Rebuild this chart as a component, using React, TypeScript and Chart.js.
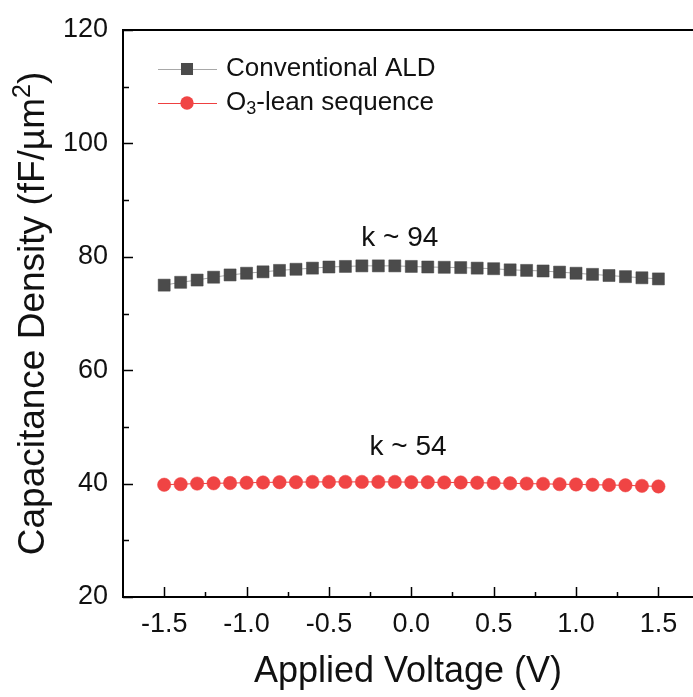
import React, { useEffect, useRef } from "react";
import { Chart, registerables } from "chart.js";

Chart.register(...registerables);

// ---------- data ----------
const voltage = [
  -1.5, -1.4, -1.3, -1.2, -1.1, -1.0, -0.9, -0.8, -0.7, -0.6, -0.5, -0.4, -0.3, -0.2, -0.1,
  0.0, 0.1, 0.2, 0.3, 0.4, 0.5, 0.6, 0.7, 0.8, 0.9, 1.0, 1.1, 1.2, 1.3, 1.4, 1.5,
];
const conventionalALD = [
  75.0, 75.5, 75.9, 76.4, 76.8, 77.1, 77.35, 77.6, 77.8, 78.0, 78.2, 78.3, 78.4, 78.4, 78.4,
  78.3, 78.2, 78.15, 78.1, 78.0, 77.9, 77.7, 77.6, 77.5, 77.3, 77.1, 76.9, 76.7, 76.5, 76.3, 76.1,
];
const o3LeanSequence = [
  39.8, 39.9, 40.0, 40.05, 40.1, 40.15, 40.2, 40.25, 40.25, 40.3, 40.3, 40.3, 40.3, 40.3, 40.3,
  40.25, 40.25, 40.2, 40.2, 40.15, 40.1, 40.05, 40.0, 39.95, 39.9, 39.85, 39.8, 39.75, 39.7, 39.6, 39.5,
];
const seriesNames = ["Conventional ALD", "O₃-lean sequence"];
const xTickValues = [-1.5, -1.0, -0.5, 0.0, 0.5, 1.0, 1.5];
const xTickLabels = ["-1.5", "-1.0", "-0.5", "0.0", "0.5", "1.0", "1.5"];
const xMinorTicks = [-1.25, -0.75, -0.25, 0.25, 0.75, 1.25];
const yTickValues = [20, 40, 60, 80, 100, 120];
const yTickLabels = ["20", "40", "60", "80", "100", "120"];
const yMinorTicks = [30, 50, 70, 90, 110];
const xAxisTitle = "Applied Voltage (V)";
const yAxisTitle = "Capacitance Density (fF/µm²)";
const kLabels = ["k ~ 94", "k ~ 54"];
const kLabelAnchorX = [-0.07, -0.02];
const kLabelAnchorY = [83.3, 46.4];

const FONT = '"Liberation Sans", Arial, Helvetica, sans-serif';

type Run = { t: string; kind: "n" | "sub" | "sup" };

function splitRich(text: string): Run[] {
  const subs = "₀₁₂₃₄₅₆₇₈₉";
  const sups = "⁰¹²³⁴⁵⁶⁷⁸⁹";
  const runs: Run[] = [];
  for (const ch of text) {
    let kind: Run["kind"] = "n";
    let t = ch;
    if (subs.indexOf(ch) >= 0) {
      kind = "sub";
      t = String(subs.indexOf(ch));
    } else if (ch === "²") {
      kind = "sup";
      t = "2";
    } else if (ch === "³") {
      kind = "sup";
      t = "3";
    } else if (sups.indexOf(ch) >= 0) {
      kind = "sup";
      t = String(sups.indexOf(ch));
    }
    const last = runs[runs.length - 1];
    if (last && last.kind === kind) last.t += t;
    else runs.push({ t, kind });
  }
  return runs;
}

function drawRichText(
  ctx: CanvasRenderingContext2D,
  text: string,
  x: number,
  y: number,
  size: number,
  align: "left" | "center" = "left"
) {
  const runs = splitRich(text);
  const small = Math.round(size * 0.68);
  const fontFor = (r: Run) => `${r.kind === "n" ? size : small}px ${FONT}`;
  let total = 0;
  runs.forEach((r) => {
    ctx.font = fontFor(r);
    total += ctx.measureText(r.t).width;
  });
  let cx = align === "center" ? x - total / 2 : x;
  ctx.textAlign = "left";
  runs.forEach((r) => {
    ctx.font = fontFor(r);
    const dy = r.kind === "sub" ? size * 0.24 : r.kind === "sup" ? -size * 0.3 : 0;
    ctx.fillText(r.t, cx, y + dy);
    cx += ctx.measureText(r.t).width;
  });
}

const decorPlugin = {
  id: "decor",
  afterDatasetsDraw(chart: any) {
    const { ctx, chartArea: a, scales } = chart;
    const x = scales.x;
    const y = scales.y;
    ctx.save();
    // frame: top, left, bottom (right side is cropped away)
    ctx.strokeStyle = "#000";
    ctx.lineWidth = 2;
    ctx.beginPath();
    ctx.moveTo(a.right + 2, a.top);
    ctx.lineTo(a.left, a.top);
    ctx.lineTo(a.left, a.bottom);
    ctx.lineTo(a.right + 2, a.bottom);
    ctx.stroke();

    // inward ticks
    ctx.lineWidth = 1.5;
    ctx.beginPath();
    xTickValues.forEach((v) => {
      const px = Math.round(x.getPixelForValue(v)) + 0.5;
      ctx.moveTo(px, a.bottom);
      ctx.lineTo(px, a.bottom - 10);
    });
    xMinorTicks.forEach((v) => {
      const px = Math.round(x.getPixelForValue(v)) + 0.5;
      ctx.moveTo(px, a.bottom);
      ctx.lineTo(px, a.bottom - 5);
    });
    yTickValues.forEach((v) => {
      const py = Math.round(y.getPixelForValue(v)) + 0.5;
      ctx.moveTo(a.left, py);
      ctx.lineTo(a.left + 10, py);
    });
    yMinorTicks.forEach((v) => {
      const py = Math.round(y.getPixelForValue(v)) + 0.5;
      ctx.moveTo(a.left, py);
      ctx.lineTo(a.left + 6, py);
    });
    ctx.stroke();

    // y-axis title (rotated, with a real superscript)
    ctx.fillStyle = "#111";
    ctx.textBaseline = "middle";
    ctx.save();
    ctx.translate(y.left + 34, (a.top + a.bottom) / 2);
    ctx.rotate(-Math.PI / 2);
    drawRichText(ctx, yAxisTitle, 0, 0, 37, "center");
    ctx.restore();

    // legend
    chart.data.datasets.forEach((ds: any, i: number) => {
      const rowY = a.top + 39 + i * 34;
      const x0 = a.left + 35;
      const x1 = a.left + 94;
      const mx = a.left + 64;
      ctx.strokeStyle = ds.borderColor;
      ctx.lineWidth = 1;
      ctx.beginPath();
      ctx.moveTo(x0, rowY + 0.5);
      ctx.lineTo(x1, rowY + 0.5);
      ctx.stroke();
      ctx.fillStyle = ds.pointBackgroundColor;
      if (ds.pointStyle === "rect") {
        const s = ds.pointRadius * Math.SQRT1_2;
        ctx.fillRect(mx - s, rowY - s, 2 * s, 2 * s);
      } else {
        ctx.beginPath();
        ctx.arc(mx, rowY, ds.pointRadius, 0, Math.PI * 2);
        ctx.fill();
      }
      ctx.fillStyle = "#111";
      ctx.textBaseline = "middle";
      drawRichText(ctx, ds.label, a.left + 103, rowY, 26);
    });

    // k annotations
    ctx.fillStyle = "#111";
    ctx.textAlign = "center";
    ctx.textBaseline = "middle";
    ctx.font = `28px ${FONT}`;
    kLabels.forEach((t, i) => {
      ctx.fillText(t, x.getPixelForValue(kLabelAnchorX[i]), y.getPixelForValue(kLabelAnchorY[i]));
    });
    ctx.restore();
  },
};

export default function App() {
  const ref = useRef<HTMLCanvasElement>(null);
  useEffect(() => {
    const canvas = ref.current!;
    const chart = new Chart(canvas, {
      type: "scatter",
      data: {
        datasets: [
          {
            label: seriesNames[0],
            data: voltage.map((v, i) => ({ x: v, y: conventionalALD[i] })),
            showLine: true,
            borderColor: "#a8a8a8",
            borderWidth: 1,
            pointStyle: "rect",
            pointRadius: 8.5,
            pointBackgroundColor: "#4b4b4b",
            pointBorderColor: "#444444",
            pointBorderWidth: 0.5,
          },
          {
            label: seriesNames[1],
            data: voltage.map((v, i) => ({ x: v, y: o3LeanSequence[i] })),
            showLine: true,
            borderColor: "#ee4040",
            borderWidth: 1,
            pointStyle: "circle",
            pointRadius: 6.7,
            pointBackgroundColor: "#f04444",
            pointBorderColor: "#f04444",
            pointBorderWidth: 0.5,
          },
        ],
      } as any,
      options: {
        animation: false,
        responsive: false,
        layout: { autoPadding: false, padding: { top: 30, right: 0, bottom: 0, left: 0 } },
        plugins: { legend: { display: false }, tooltip: { enabled: false } },
        scales: {
          x: {
            type: "linear",
            min: -1.75,
            max: 1.71,
            grid: { display: false, drawTicks: false },
            border: { display: false },
            afterBuildTicks: (s: any) => {
              s.ticks = xTickValues.map((v) => ({ value: v }));
            },
            afterFit: (s: any) => {
              s.height = 100;
              s.paddingLeft = 0;
              s.paddingRight = 0;
            },
            ticks: {
              padding: 11,
              autoSkip: false,
              maxRotation: 0,
              color: "#111",
              font: { family: FONT, size: 27 },
              callback: (v: any) => {
                const i = xTickValues.findIndex((t) => Math.abs(t - Number(v)) < 1e-6);
                return i >= 0 ? xTickLabels[i] : "";
              },
            },
            title: {
              display: true,
              text: xAxisTitle,
              color: "#111",
              font: { family: FONT, size: 36, lineHeight: 1.1 },
              padding: { top: 0, bottom: 5 },
            },
          },
          y: {
            type: "linear",
            min: 20,
            max: 120,
            grid: { display: false, drawTicks: false },
            border: { display: false },
            afterBuildTicks: (s: any) => {
              s.ticks = yTickValues.map((v) => ({ value: v }));
            },
            afterFit: (s: any) => {
              s.width = 123;
              s.paddingTop = 0;
              s.paddingBottom = 0;
            },
            ticks: {
              padding: 15,
              autoSkip: false,
              color: "#111",
              font: { family: FONT, size: 27 },
              callback: (v: any) => {
                const i = yTickValues.findIndex((t) => Math.abs(t - Number(v)) < 1e-6);
                return i >= 0 ? yTickLabels[i] : "";
              },
            },
            title: { display: false },
          },
        },
      } as any,
      plugins: [decorPlugin],
    });
    return () => chart.destroy();
  }, []);
  return (
    <div style={{ position: "fixed", left: 0, top: 0, width: 693, height: 697, background: "#fff" }}>
      <canvas ref={ref} width={693} height={697} style={{ display: "block" }} />
    </div>
  );
}
